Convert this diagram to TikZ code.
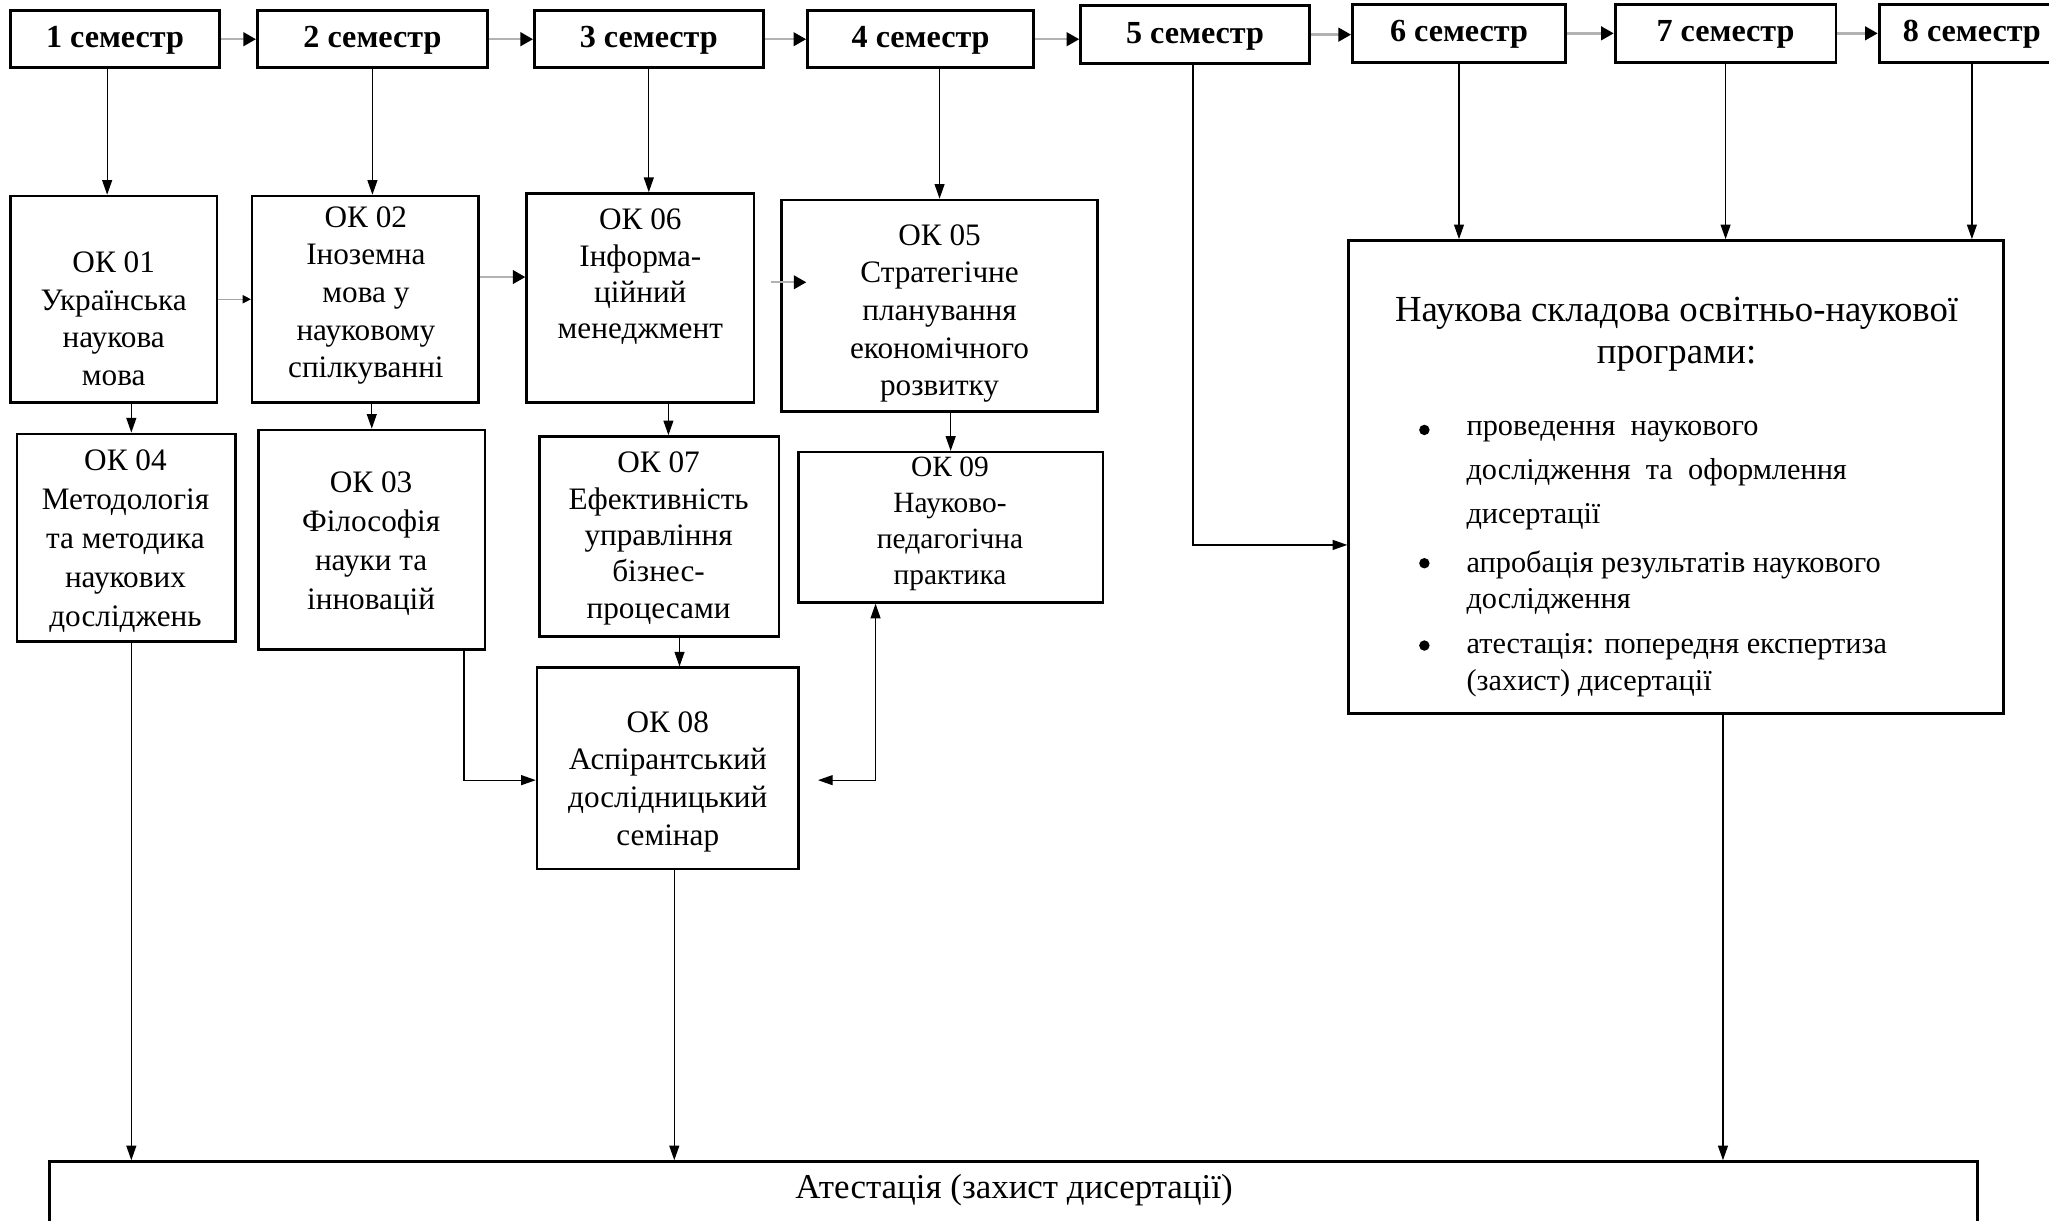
\documentclass[tikz,border=0pt]{standalone}
\usepackage{fontspec}
\setmainfont{Liberation Serif}
\usetikzlibrary{arrows.meta, positioning, fit, calc}
\newlength{\pxu}
\setlength{\pxu}{0.25mm}
\tikzset{semester/.style={draw, line width=1.6pt, inner sep=0pt, minimum height=44\pxu, text depth=0.5ex, font=\fontsize{17.5}{20}\selectfont\bfseries}}
\tikzset{okbox/.style={draw, line width=1.4pt, inner sep=0pt}}
\tikzset{oktext/.style={align=center, inner sep=0pt}}
\tikzset{itemtext/.style={align=left, inner sep=0pt, anchor=west}}
\tikzset{dot/.style={circle, fill, inner sep=0pt, minimum size=8\pxu}}
\tikzset{link/.style={draw, line width=0.7pt, -{Triangle[length=2.8mm, width=1.9mm]}}}
\tikzset{semlink/.style={draw=gray!60, line width=1.3pt, -{Triangle[black, length=2.4mm, width=2.6mm]}}}
\tikzset{thinlink/.style={draw=gray!70, line width=0.6pt, -{Triangle[black, length=1.6mm, width=1.6mm]}}}

\begin{document}
\begin{tikzpicture}[x=\pxu, y=-\pxu, font=\fontsize{17}{20.5}\selectfont]
\useasboundingbox (0,0) rectangle (1568,934);

% semesters
\node[semester, minimum width=160\pxu] (sem1) at (88,30) {1 семестр};
\node[semester, minimum width=176\pxu] (sem2) at (285,30) {2 семестр};
\node[semester, minimum width=175\pxu] (sem3) at (496.5,30) {3 семестр};
\node[semester, minimum width=173\pxu] (sem4) at (704.5,30) {4 семестр};
\node[semester, minimum width=175\pxu] (sem5) at (914.5,26.5) {5 семестр};
\node[semester, minimum width=163\pxu] (sem6) at (1116.5,25.5) {6 семестр};
\node[semester, minimum width=169\pxu] (sem7) at (1320.5,25.5) {7 семестр};
\node[semester, minimum width=142\pxu] (sem8) at (1509,25.5) {8 семестр};
\foreach \a/\b in {sem1/sem2, sem2/sem3, sem3/sem4, sem4/sem5, sem5/sem6, sem6/sem7, sem7/sem8}
  \draw[semlink] (\a.east) -- (\b.west |- \a.east);

% first row
\node[okbox, fit={(8,150) (166,308)}] (ok01) {};
\node[oktext] (ok01txt) at (87,244) {ОК 01\\Українська\\наукова\\мова};
\node[okbox, fit={(193,150) (366,308)}] (ok02) {};
\node[oktext] (ok02txt) at (280,226) {ОК 02\\Іноземна\\мова у\\науковому\\спілкуванні};
\node[okbox, fit={(403,148) (577,308)}] (ok06) {};
\node[oktext, font=\fontsize{17}{19.8}\selectfont] (ok06txt) at (490,212) {ОК 06\\Інформа-\\ційний\\менеджмент};
\node[okbox, fit={(598,153) (840,315)}] (ok05) {};
\node[oktext] (ok05txt) at (719,240) {ОК 05\\Стратегічне\\планування\\економічного\\розвитку};

% second row
\node[okbox, fit={(13,332) (180,491)}] (ok04) {};
\node[oktext, font=\fontsize{17}{21.2}\selectfont] (ok04txt) at (96,414) {ОК 04\\Методологія\\та методика\\наукових\\досліджень};
\node[okbox, fit={(198,329) (371,497)}] (ok03) {};
\node[oktext, font=\fontsize{17}{21.2}\selectfont] (ok03txt) at (284,416) {ОК 03\\Філософія\\науки та\\інновацій};
\node[okbox, fit={(413,334) (596,487)}] (ok07) {};
\node[oktext, font=\fontsize{17}{19.8}\selectfont] (ok07txt) at (504,412) {ОК 07\\Ефективність\\управління\\бізнес-\\процесами};
\node[okbox, fit={(611,346) (844,461)}] (ok09) {};
\node[oktext, font=\fontsize{16}{19.5}\selectfont] (ok09txt) at (727,401) {ОК 09\\Науково-\\педагогічна\\практика};
\node[okbox, fit={(411,511) (611,665)}] (ok08) {};
\node[oktext] (ok08txt) at (511,598) {ОК 08\\Аспірантський\\дослідницький\\семінар};

% research part
\node[okbox, fit={(1032,184) (1533,546)}] (big) {};
\node[oktext, font=\fontsize{20}{22.7}\selectfont] (bigtitle) at (1283,256) {Наукова складова освітньо-наукової\\програми:};
\node[dot] (bul1) at (1090,329) {};
\node[dot] (bul2) at (1090,431) {};
\node[dot] (bul3) at (1090,494) {};
\node[itemtext, font=\fontsize{16.5}{24.1}\selectfont] (item1) at (1122,364) {проведення\ \ наукового\\дослідження\ \ та\ \ оформлення\\дисертації};
\node[itemtext, font=\fontsize{16.5}{19.8}\selectfont] (item2) at (1122,446) {апробація результатів наукового\\дослідження};
\node[itemtext, font=\fontsize{16.5}{19.8}\selectfont] (item3) at (1122,509) {атестація: попередня експертиза\\(захист) дисертації};

% attestation
\node[okbox, line width=1.6pt, fit={(38,889) (1513,960)}] (att) {};
\node[oktext, font=\fontsize{19}{22}\selectfont] (atttxt) at (776,911) {Атестація (захист дисертації)};
\coordinate (sem5bend) at (913,417);
\coordinate (seminarlevel) at (0,597);

% connectors
\draw[link] ([xshift=-6\pxu]sem1.south) -- ([xshift=-6\pxu]sem1.south |- ok01.north);
\draw[link] (sem2.south) -- (sem2.south |- ok02.north);
\draw[link] (sem3.south) -- (sem3.south |- ok06.north);
\draw[link] (sem4.south -| ok05.north) -- (ok05.north);
\draw[link] (sem5.south -| sem5bend) -- (sem5bend) -- (big.west |- sem5bend);
\draw[link] (sem6.south) -- (sem6.south |- big.north);
\draw[link] (sem7.south) -- (sem7.south |- big.north);
\draw[link] (sem8.south) -- (sem8.south |- big.north);

\draw[thinlink] (ok01) -- (ok02);
\draw[semlink] (ok02.east |- ok06txt) -- (ok06.west |- ok06txt);
\draw[semlink, shorten <=12\pxu, shorten >=-20\pxu] (ok06.east |- 0,216) -- (ok05.west |- 0,216);

\draw[link] ([xshift=4\pxu]ok01.south -| ok04.north) -- ([xshift=4\pxu]ok04.north);
\draw[link] (ok02.south -| ok03.north) -- (ok03.north);
\draw[link] ([xshift=7\pxu]ok06.south -| ok07.north) -- ([xshift=7\pxu]ok07.north);
\draw[link] (ok05.south -| ok09.north) -- (ok09.north);
\draw[link] ([xshift=9\pxu]ok07.south -| ok08.north) -- ([xshift=9\pxu]ok08.north);
\draw[link] ([xshift=-17\pxu]ok03.south east) |- (ok08.west |- seminarlevel);
\draw[link, {Triangle[length=2.8mm, width=1.9mm]}-{Triangle[length=2.8mm, width=1.9mm]}] ([xshift=14\pxu]ok08.east |- seminarlevel) -| ([xshift=60\pxu]ok09.south west);

\draw[link] ([xshift=4\pxu]ok04.south) -- ([xshift=4\pxu]ok04.south |- att.north);
\draw[link] ([xshift=5\pxu]ok08.south) -- ([xshift=5\pxu]ok08.south |- att.north);
\draw[link] ([xshift=36\pxu]big.south) -- ([xshift=36\pxu]big.south |- att.north);
\end{tikzpicture}
\end{document}
